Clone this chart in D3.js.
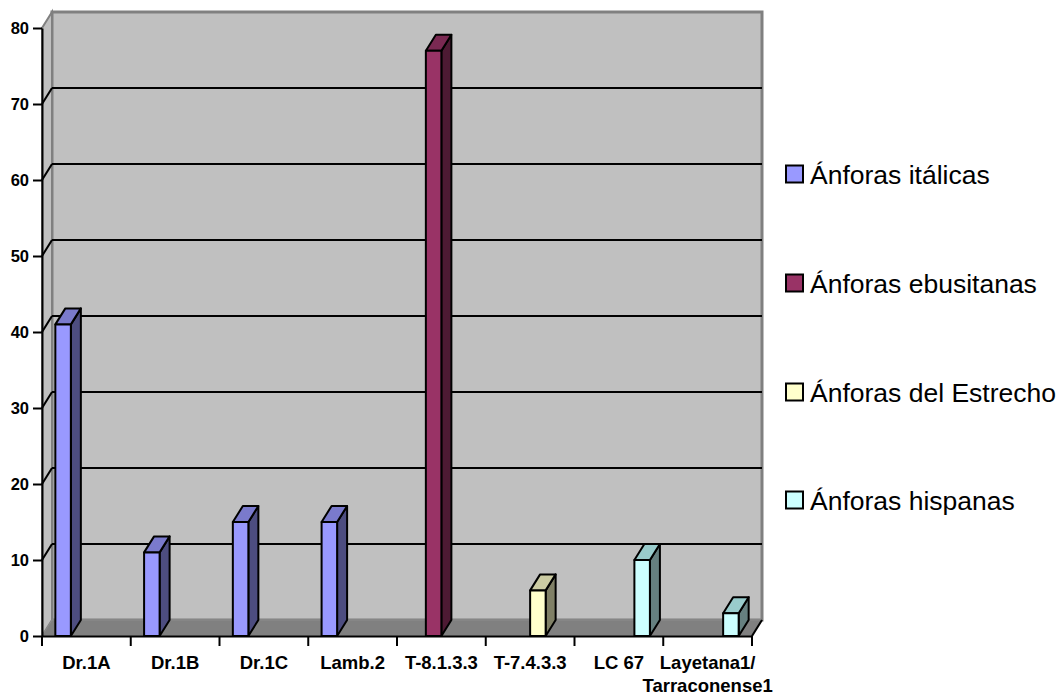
<!DOCTYPE html>
<html>
<head>
<meta charset="utf-8">
<script src="https://cdn.jsdelivr.net/npm/d3@7"></script>
<style>
body { margin:0; background:#fff; }
text { font-family: Arial, "Liberation Sans", sans-serif; }
</style>
</head>
<body>
<svg id="chart"></svg>
<script>
//----------data-------------
var categories = ["Dr.1A","Dr.1B","Dr.1C","Lamb.2","T-8.1.3.3","T-7.4.3.3","LC 67","Layetana1/\nTarraconense1"];
var seriesNames = ["Ánforas itálicas","Ánforas ebusitanas","Ánforas del Estrecho","Ánforas hispanas"];
var italicas   = [41,11,15,15,0,0,0,0];
var ebusitanas = [0,0,0,0,77,0,0,0];
var estrecho   = [0,0,0,0,0,6,0,0];
var hispanas   = [0,0,0,0,0,0,10,3];
var yTicks = [0,10,20,30,40,50,60,70,80];

var seriesValues = [italicas, ebusitanas, estrecho, hispanas];
var frontColors = ["#9999FF","#993366","#FFFFCC","#CCFFFF"];
var topColors   = ["#7A7ACC","#7A2952","#CCCCA3","#99CCCC"];
var sideColors  = ["#4D4D80","#4D1A33","#808066","#668080"];

//----------setup-------------
var screen = {width:1064, height:696};
var plot = {left:42, right:752, top:28, bottom:636};
var depth = {dx:10, dy:-16};

var svg = d3.select("#chart")
	.attr("width", screen.width)
	.attr("height", screen.height);

var xScale = d3.scaleBand()
	.domain(categories)
	.range([plot.left, plot.right])
	.padding(0);
var inner = d3.scaleBand()
	.domain(seriesNames)
	.range([0, xScale.bandwidth()])
	.paddingInner(0)
	.paddingOuter(0.86);
var yScale = d3.scaleLinear()
	.domain([0,80])
	.range([plot.bottom, plot.top]);

var pts = function(arr) { return arr.map(function(p){ return p.join(","); }).join(" "); };

//----------walls-------------
var bx0 = plot.left + depth.dx, bx1 = plot.right + depth.dx;
var by0 = plot.top + depth.dy, by1 = plot.bottom + depth.dy;

// back wall
svg.append("rect")
	.attr("x", bx0).attr("y", by0)
	.attr("width", bx1 - bx0).attr("height", by1 - by0)
	.attr("fill", "#C0C0C0")
	.attr("stroke", "#808080")
	.attr("stroke-width", 3);
// side wall
svg.append("polygon")
	.attr("points", pts([[plot.left, plot.top],[bx0, by0],[bx0, by1],[plot.left, plot.bottom]]))
	.attr("fill", "#C0C0C0")
	.attr("stroke", "#808080")
	.attr("stroke-width", 2);
// floor
svg.append("polygon")
	.attr("points", pts([[plot.left, plot.bottom],[bx0, by1],[bx1, by1],[plot.right, plot.bottom]]))
	.attr("fill", "#808080")
	.attr("stroke", "#8c8c8c")
	.attr("stroke-width", 1);

// gridlines
var grid = svg.append("g");
yTicks.filter(function(t){ return t > 0 && t < 80; }).forEach(function(t) {
	var y = yScale(t);
	grid.append("line")
		.attr("x1", bx0).attr("x2", bx1)
		.attr("y1", y + depth.dy).attr("y2", y + depth.dy)
		.attr("stroke", "#000").attr("stroke-width", 2);
	grid.append("line")
		.attr("x1", plot.left).attr("y1", y)
		.attr("x2", bx0).attr("y2", y + depth.dy)
		.attr("stroke", "#000").attr("stroke-width", 2);
});
// floor right edge
svg.append("line")
	.attr("x1", plot.right).attr("y1", plot.bottom)
	.attr("x2", bx1).attr("y2", by1)
	.attr("stroke", "#000").attr("stroke-width", 2);

//----------bars-------------
var bars = svg.append("g");
categories.forEach(function(cat, i) {
	seriesValues.forEach(function(vals, s) {
		var v = vals[i];
		if (!v) return;
		var x = xScale(cat) + inner(seriesNames[s]);
		var w = inner.bandwidth();
		var y = yScale(v);
		var y0 = yScale(0);
		var g = bars.append("g")
			.attr("stroke", "#000")
			.attr("stroke-width", 2)
			.attr("stroke-linejoin", "round");
		g.append("polygon")
			.attr("points", pts([[x+w, y],[x+w+depth.dx, y+depth.dy],[x+w+depth.dx, y0+depth.dy],[x+w, y0]]))
			.attr("fill", sideColors[s]);
		g.append("polygon")
			.attr("points", pts([[x, y],[x+depth.dx, y+depth.dy],[x+w+depth.dx, y+depth.dy],[x+w, y]]))
			.attr("fill", topColors[s]);
		g.append("rect")
			.attr("x", x).attr("y", y)
			.attr("width", w).attr("height", y0 - y)
			.attr("fill", frontColors[s]);
	});
});

//----------axes-------------
var yAxis = d3.axisLeft(yScale)
	.tickValues(yTicks)
	.tickSize(9)
	.tickSizeOuter(0)
	.tickPadding(4);
var yg = svg.append("g")
	.attr("transform", "translate(" + plot.left + ",0)")
	.call(yAxis);
yg.selectAll("line, path").attr("stroke", "#000").attr("stroke-width", 2);
yg.selectAll("text")
	.attr("font-size", 16.5)
	.attr("font-weight", "bold")
	.attr("fill", "#000")
	.attr("font-family", "Arial, 'Liberation Sans', sans-serif");

var xAxis = d3.axisBottom(xScale).tickSize(0).tickPadding(0);
var xg = svg.append("g")
	.attr("transform", "translate(0," + plot.bottom + ")")
	.call(xAxis);
xg.select("path").attr("stroke", "#000").attr("stroke-width", 2);
xg.selectAll("text").remove();
xg.selectAll(".tick").each(function(d) {
	var lines = d.split("\n");
	var t = d3.select(this).append("text")
		.attr("fill", "#000")
		.attr("font-size", 18.5)
		.attr("font-weight", "bold")
		.attr("text-anchor", "middle")
		.attr("font-family", "Arial, 'Liberation Sans', sans-serif");
	lines.forEach(function(l, k) {
		t.append("tspan").attr("x", 0).attr("y", 33 + k * 23).text(l);
	});
});
// boundary ticks
var bounds = categories.map(function(c){ return xScale(c); }).concat([plot.right]);
xg.selectAll(".bound")
	.data(bounds)
	.enter()
	.append("line")
	.attr("class", "bound")
	.attr("x1", function(d){ return d; }).attr("x2", function(d){ return d; })
	.attr("y1", 0).attr("y2", 10)
	.attr("stroke", "#000").attr("stroke-width", 2);

//----------legend-------------
var legendY = [174, 283, 392, 500];
var legend = svg.append("g");
seriesNames.forEach(function(name, s) {
	legend.append("rect")
		.attr("x", 786).attr("y", legendY[s] - 8.5)
		.attr("width", 17).attr("height", 17)
		.attr("fill", frontColors[s])
		.attr("stroke", "#000").attr("stroke-width", 2);
	legend.append("text")
		.attr("x", 810).attr("y", legendY[s])
		.attr("dy", "0.36em")
		.attr("font-size", 26.5)
		.attr("fill", "#000")
		.text(name);
});
</script>
</body>
</html>
